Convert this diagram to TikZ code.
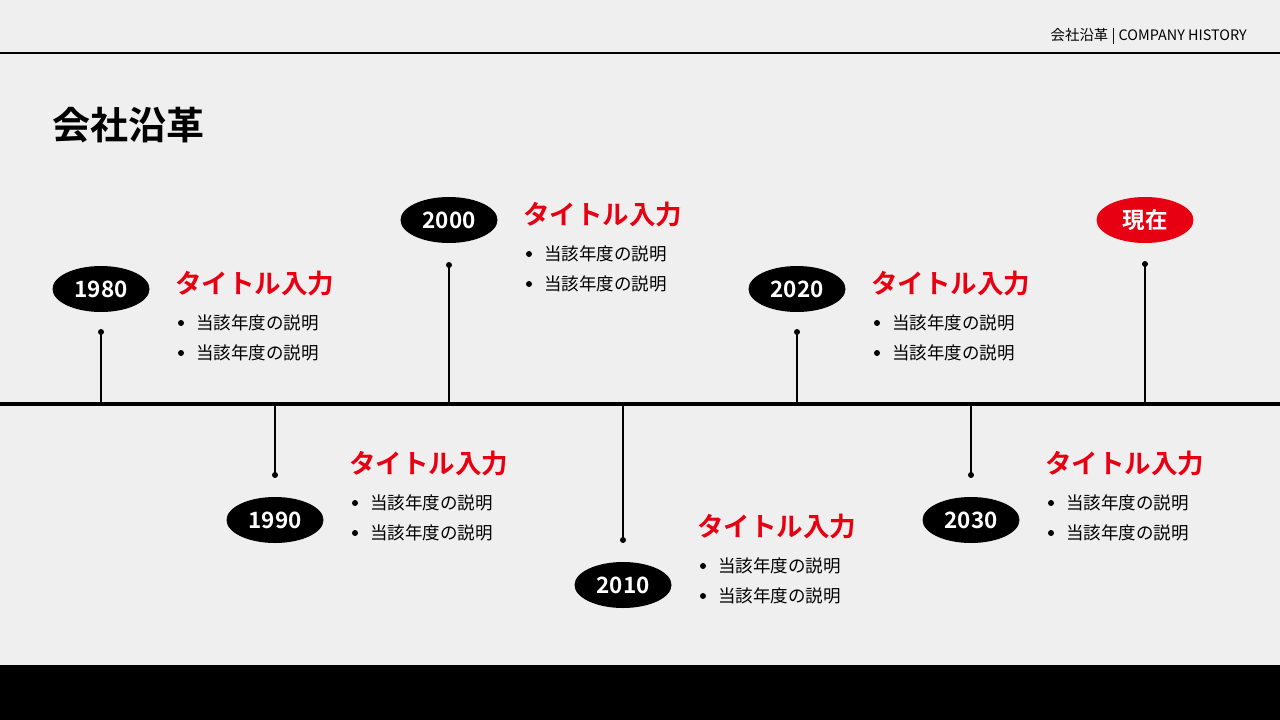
\documentclass[tikz,border=0pt]{standalone}
\usepackage{fontspec}
\setmainfont{Noto Sans CJK JP}
\newfontfamily\jpb{Noto Sans CJK JP Bold}
\definecolor{bg}{HTML}{EFEFEF}
\definecolor{accent}{HTML}{E60012}
\tikzset{
 yearbox/.style={ellipse,fill=black,minimum width=97pt,minimum height=46pt,inner sep=0pt,text=white,font=\jpb\fontsize{22.5}{22.5}\selectfont},
 ttl/.style={anchor=west,text=accent,font=\jpb\fontsize{26.5}{26.5}\selectfont,inner sep=0pt},
 item/.style={anchor=west,font=\fontsize{17.5}{17.5}\selectfont,inner sep=0pt},
 stem/.style={line width=2pt},
}
\usetikzlibrary{shapes.geometric}
\begin{document}
\begin{tikzpicture}[x=1pt,y=-1pt]
\fill[bg] (0,0) rectangle (1280,720);
\useasboundingbox (0,0) rectangle (1280,720);
\fill[black] (0,665) rectangle (1280,720);
\draw[line width=1.5pt] (0,53) -- (1280,53);
\node[anchor=east,inner sep=0pt,font=\fontsize{14.4}{14.4}\selectfont] (hdr) at (1247,36) {会社沿革 | COMPANY HISTORY};
\node[anchor=west,inner sep=0pt,font=\jpb\fontsize{38}{38}\selectfont] (title) at (52,125) {会社沿革};
\coordinate (L) at (0,404); \coordinate (R) at (1280,404);
\draw[line width=4pt] (L) -- (R);
\foreach \n/\x/\yy/\dy/\ty/\lab in {a/101/289/332/284/1980, b/275/520/475/464/1990, c/449/220/265/215/2000, d/623/585/540/527/2010, e/797/289/332/284/2020, f/971/520/475/464/2030}{
  \node[yearbox] (y\n) at (\x,\yy) {\lab};
  \coordinate (d\n) at (\x,\dy);
  \coordinate (t\n) at (\x,404);
  \draw[stem] (d\n) -- (t\n);
  \fill (d\n) circle (3pt);
  \node[ttl] (ti\n) at (\x+74,\ty) {タイトル入力};
  \foreach \k in {1,2}{
    \fill (\x+80,\ty+9+30*\k) circle (3pt);
    \node[item] (it\n\k) at (\x+95,\ty+9+30*\k) {当該年度の説明};
  }
}
\node[yearbox,fill=accent] (yg) at (1145,220) {現在};
\coordinate (dg) at (1145,264); \coordinate (tg) at (1145,404);
\draw[stem] (dg) -- (tg);
\fill (dg) circle (3pt);
\end{tikzpicture}
\end{document}
